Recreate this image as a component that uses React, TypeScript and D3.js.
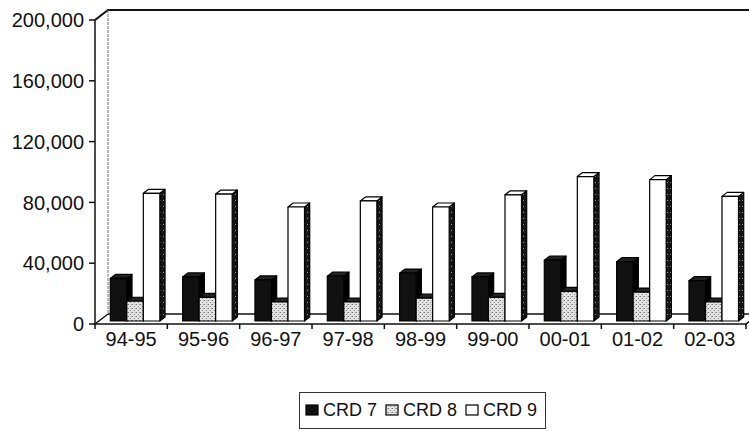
import React from "react";
import * as d3 from "d3";

const categories = ["94-95", "95-96", "96-97", "97-98", "98-99", "99-00", "00-01", "01-02", "02-03"];
const seriesNames = ["CRD 7", "CRD 8", "CRD 9"];
const crd7 = [28000, 29000, 27000, 29500, 31500, 29000, 40000, 39000, 26500];
const crd8 = [13000, 15500, 12500, 12500, 15000, 15500, 19500, 19000, 12500];
const crd9 = [84000, 83500, 75000, 79000, 75000, 83000, 95000, 93000, 82000];
const yTicks = [0, 40000, 80000, 120000, 160000, 200000];

const W = 749;
const H = 431;
const FONT = "'Liberation Sans', Arial, Helvetica, sans-serif";

export default function App() {
  const values = [crd7, crd8, crd9];
  const x = d3.scaleBand<string>().domain(categories).range([95, 746]).paddingInner(0).paddingOuter(0);
  const xs = d3.scaleBand<string>().domain(seriesNames).range([0, x.bandwidth()]).paddingInner(0).paddingOuter(0.69);
  const y = d3.scaleLinear().domain([0, 200000]).range([324, 20]);
  const legendX = d3.scaleBand<string>().domain(seriesNames).range([306, 546]);
  const DX = 13, DY = 10;
  const f0 = 0.3, f1 = 0.7;
  const bw = xs.bandwidth();
  const sdx = (f1 - f0) * DX, sdy = (f1 - f0) * DY;
  const fmt = d3.format(",");
  const y0 = y(0);
  const yT = y(200000);
  const xL = 95, xR = 746;

  const front = ["#111", "url(#stip)", "#fff"];
  const side = ["#000", "#111", "url(#dark)"];
  const top = ["#222", "#222", "#fff"];

  const pts = (p: number[][]) => p.map((q) => q.join(",")).join(" ");

  return (
    <svg width={W} height={H} style={{ position: "fixed", left: 0, top: 0, background: "#fff" }} fontFamily={FONT}>
      <defs>
        <pattern id="stip" width={4} height={4} patternUnits="userSpaceOnUse">
          <rect width={4} height={4} fill="#e2e2e2" />
          <rect x={0} y={0} width={1} height={1} fill="#777" />
          <rect x={2} y={2} width={1} height={1} fill="#8a8a8a" />
          <rect x={3} y={0} width={1} height={1} fill="#aaa" />
        </pattern>
        <pattern id="dark" width={3} height={6} patternUnits="userSpaceOnUse">
          <rect width={3} height={6} fill="#161616" />
          <rect x={1} y={2} width={1} height={1} fill="#999" />
        </pattern>
      </defs>
      <rect width={W} height={H} fill="#fff" />
      {/* walls and floor */}
      <polyline points={pts([[xL, yT], [xL + DX, yT - DY], [W + 5, yT - DY]])} fill="none" stroke="#111" strokeWidth={2} />
      <line x1={xL + DX} y1={yT - DY} x2={xL + DX} y2={y0 - DY} stroke="#777" strokeWidth={1} strokeDasharray="3,1" />
      <line x1={xL + DX} y1={y0 - DY} x2={xR + DX} y2={y0 - DY} stroke="#111" strokeWidth={1.5} />
      <line x1={xL} y1={y0} x2={xL + DX} y2={y0 - DY} stroke="#111" strokeWidth={1.5} />
      <line x1={xR} y1={y0} x2={xR + DX} y2={y0 - DY} stroke="#111" strokeWidth={1.5} />
      <line x1={xL} y1={yT} x2={xL} y2={y0} stroke="#111" strokeWidth={1.5} />
      <line x1={xL} y1={y0} x2={xR} y2={y0} stroke="#111" strokeWidth={1.5} />
      {/* y ticks */}
      {yTicks.map((t) => (
        <g key={t}>
          <line x1={xL - 6} x2={xL} y1={y(t)} y2={y(t)} stroke="#111" strokeWidth={1.5} />
          <text x={xL - 11} y={y(t)} dy="0.36em" textAnchor="end" fontSize={20} fill="#111">
            {fmt(t)}
          </text>
        </g>
      ))}
      {/* x ticks and labels */}
      {categories.map((c) => (
        <line key={"t" + c} x1={x(c)!} x2={x(c)!} y1={y0} y2={y0 + 5} stroke="#111" strokeWidth={1.5} />
      ))}
      <line x1={xR} x2={xR} y1={y0} y2={y0 + 5} stroke="#111" strokeWidth={1.5} />
      {categories.map((c) => (
        <text key={"l" + c} x={x(c)! + x.bandwidth() / 2} y={346} textAnchor="middle" fontSize={20} fill="#111">
          {c}
        </text>
      ))}
      {/* bars */}
      {categories.map((c, i) => (
        <g key={"g" + c}>
          {seriesNames.map((s, k) => {
            const v = values[k][i];
            const bx0 = x(c)! + xs(s)! + f0 * DX;
            const bx1 = bx0 + bw;
            const yb = y0 - f0 * DY;
            const yt = y(v) - f0 * DY;
            return (
              <g key={s} stroke="#000" strokeWidth={1.2} strokeLinejoin="round">
                <polygon points={pts([[bx1, yb], [bx1, yt], [bx1 + sdx, yt - sdy], [bx1 + sdx, yb - sdy]])} fill={side[k]} />
                <polygon points={pts([[bx0, yt], [bx1, yt], [bx1 + sdx, yt - sdy], [bx0 + sdx, yt - sdy]])} fill={top[k]} />
                <rect x={bx0} y={yt} width={bw} height={yb - yt} fill={front[k]} />
              </g>
            );
          })}
        </g>
      ))}
      {/* legend */}
      <rect x={299.5} y={392.5} width={246} height={36} fill="#fff" stroke="#333" strokeWidth={1} />
      {seriesNames.map((s, k) => {
        const lx = legendX(s)!;
        return (
          <g key={"lg" + s}>
            <rect x={lx} y={405} width={12} height={10} fill={front[k]} stroke="#000" strokeWidth={1.2} />
            <text x={lx + 17} y={415.5} fontSize={18} fill="#111">
              {s}
            </text>
          </g>
        );
      })}
    </svg>
  );
}
